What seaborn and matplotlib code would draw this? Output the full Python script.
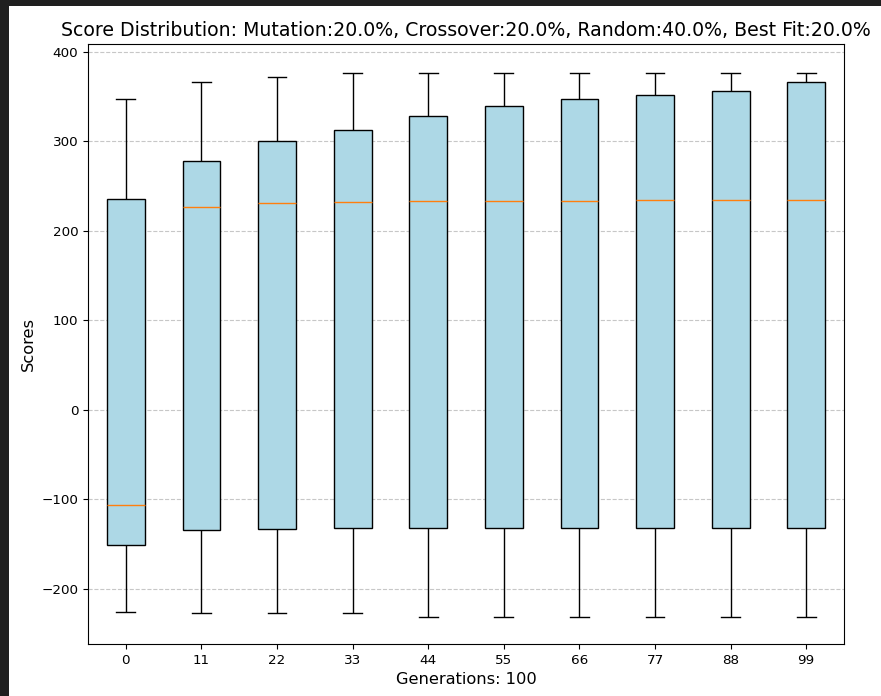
import pandas as pd
import seaborn as sns
import matplotlib.pyplot as plt
from matplotlib.patches import Rectangle

# generations shown on the x axis
generations = ['0', '11', '22', '33', '44', '55', '66', '77', '88', '99']

# five-number summary per generation
score_min = [-226, -227, -227, -227, -232, -232, -232, -232, -232, -232]
score_q1 = [-151, -135, -133, -132, -132, -132, -132, -132, -132, -132]
score_median = [-107, 227, 231, 232, 233, 233, 233, 234, 234, 234]
score_q3 = [236, 278, 300, 313, 328, 340, 347, 352, 356, 366]
score_max = [347, 366, 372, 377, 377, 377, 377, 377, 377, 377]

rows = []
for i, g in enumerate(generations):
    for v in (score_min[i], score_q1[i], score_median[i], score_q3[i], score_max[i]):
        rows.append({'generation': g, 'score': v})
df = pd.DataFrame(rows)

fig = plt.figure(figsize=(8.81, 6.96), dpi=100, facecolor='#1f1f1f')
# white notebook output area inside the dark frame
fig.patches.append(Rectangle((9 / 881, 0), 1, 1 - 6 / 696, transform=fig.transFigure,
                             facecolor='white', edgecolor='none', zorder=-1))
ax = fig.add_axes([88 / 881, 52 / 696, (844 - 88) / 881, (644 - 44) / 696])

sns.boxplot(data=df, x='generation', y='score', order=generations, ax=ax,
            color='lightblue', saturation=1, width=0.5, linecolor='black', linewidth=1,
            medianprops={'color': '#ff7f0e'}, whis=1.5, showfliers=False)

ax.set_title('Score Distribution: Mutation:20.0%, Crossover:20.0%, Random:40.0%, Best Fit:20.0%',
             fontsize=13.6)
ax.set_xlabel('Generations: 100', fontsize=11.7)
ax.set_ylabel('Scores', fontsize=11.7)
ax.tick_params(labelsize=9.7)
ax.yaxis.grid(True, linestyle='--', alpha=0.7)
ax.set_axisbelow(True)
ax.set_ylim(-262, 409)
for s in ax.spines.values():
    s.set_color('black')

plt.savefig('out.png', dpi=100, facecolor=fig.get_facecolor())
